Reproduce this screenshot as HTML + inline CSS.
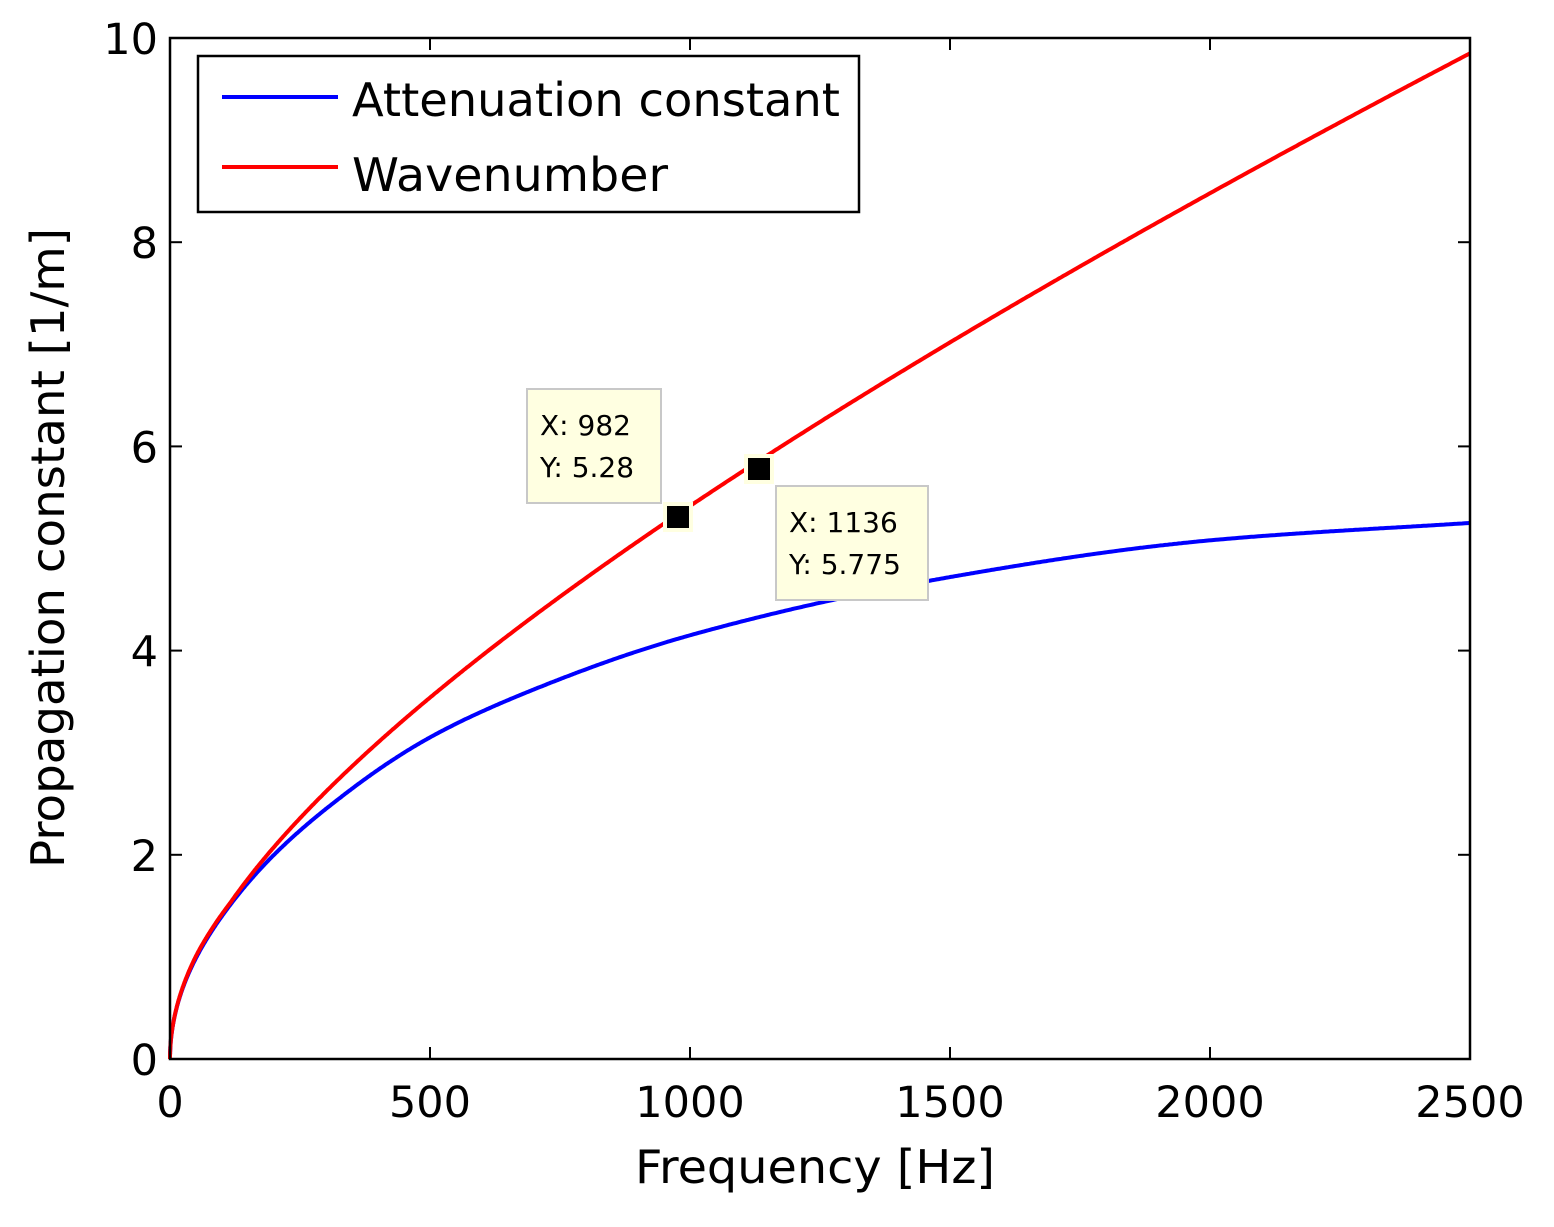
<!DOCTYPE html>
<html><head><style>body{margin:0;background:#fff}svg{display:block}</style></head><body>
<svg id="s" width="1554" height="1227" xmlns="http://www.w3.org/2000/svg" font-family="DejaVu Sans, sans-serif">
<rect width="1554" height="1227" fill="#fff"/>
<g id="ticks" stroke="#000" stroke-width="2"></g>
<path id="blue" fill="none" stroke="#0000ff" stroke-width="4"/>
<path id="red" fill="none" stroke="#ff0000" stroke-width="4"/>
<rect x="170" y="38" width="1300" height="1021" fill="none" stroke="#000" stroke-width="2.5"/>
<g font-size="43" fill="#000" id="labels"></g>
<text x="815" y="1183" font-size="46" text-anchor="middle" textLength="360" lengthAdjust="spacingAndGlyphs">Frequency [Hz]</text>
<text transform="translate(64,548) rotate(-90)" font-size="46" text-anchor="middle" textLength="640" lengthAdjust="spacingAndGlyphs">Propagation constant [1/m]</text>
<rect x="198" y="56" width="661" height="156" fill="#fff" stroke="#000" stroke-width="2.5"/>
<line x1="222" y1="97" x2="338" y2="97" stroke="#0000ff" stroke-width="4"/>
<line x1="222" y1="167" x2="338" y2="167" stroke="#ff0000" stroke-width="4"/>
<text x="352" y="116" font-size="46" textLength="488" lengthAdjust="spacingAndGlyphs">Attenuation constant</text>
<text x="352" y="191" font-size="46" textLength="316" lengthAdjust="spacingAndGlyphs">Wavenumber</text>
<rect x="527" y="389" width="134" height="114" fill="#ffffe1" stroke="#c8c8c8" stroke-width="2"/>
<text x="540" y="435" font-size="28">X: 982</text>
<text x="540" y="477" font-size="28">Y: 5.28</text>
<rect x="776" y="486" width="152" height="114" fill="#ffffe1" stroke="#c8c8c8" stroke-width="2"/>
<text x="789" y="532" font-size="28">X: 1136</text>
<text x="789" y="574" font-size="28">Y: 5.775</text>
<rect x="663" y="502" width="30" height="30" fill="#ffffe1"/>
<rect x="667" y="506" width="22" height="22" fill="#000"/>
<rect x="744" y="454" width="30" height="30" fill="#ffffe1"/>
<rect x="748" y="458" width="22" height="22" fill="#000"/>
</svg>
<script>
const X=f=>170+f*1300/2500, Y=v=>1059-v*102.1;
const fs=[0,25,100,200,300,500,700,1000,1500,2000,2500],as=[0,0.7,1.4,2.0,2.45,3.15,3.62,4.15,4.72,5.08,5.25];
const xs=fs.map(Math.sqrt),n=xs.length;
const d=[],m=[];for(let i=0;i<n-1;i++)d.push((as[i+1]-as[i])/(xs[i+1]-xs[i]));
m[0]=d[0];m[n-1]=d[n-2];for(let i=1;i<n-1;i++)m[i]=(d[i-1]*d[i]<=0)?0:2/(1/d[i-1]+1/d[i]);
function interp(f){const s=Math.sqrt(f);let i=0;while(i<n-2&&s>xs[i+1])i++;
const h=xs[i+1]-xs[i],t=(s-xs[i])/h,t2=t*t,t3=t2*t;
return (2*t3-3*t2+1)*as[i]+(t3-2*t2+t)*h*m[i]+(-2*t3+3*t2)*as[i+1]+(t3-t2)*h*m[i+1];}
let r='',b='';
for(let i=0;i<=1000;i++){const f=2500*Math.pow(i/1000,2);
let k=0.0014*f+0.127*Math.sqrt(f);
const a=interp(f); if(f<300&&k<a+0.02)k=a+0.02*Math.min(1,f/50);
r+=(i?'L':'M')+X(f).toFixed(1)+' '+Y(k).toFixed(1);
b+=(i?'L':'M')+X(f).toFixed(1)+' '+Y(a).toFixed(1);}
document.getElementById('red').setAttribute('d',r);
document.getElementById('blue').setAttribute('d',b);
let t='',l='';
for(let i=0;i<=5;i++){const x=X(i*500);t+=`<line x1="${x}" y1="1059" x2="${x}" y2="1047"/><line x1="${x}" y1="38" x2="${x}" y2="50"/>`;
l+=`<text x="${x}" y="1117" text-anchor="middle">${i*500}</text>`;}
for(let i=0;i<=5;i++){const y=Y(i*2);t+=`<line x1="170" y1="${y}" x2="182" y2="${y}"/><line x1="1470" y1="${y}" x2="1458" y2="${y}"/>`;
l+=`<text x="158" y="${y+16}" text-anchor="end">${i*2}</text>`;}
document.getElementById('ticks').innerHTML=t;document.getElementById('labels').innerHTML=l;
</script>
</body></html>
